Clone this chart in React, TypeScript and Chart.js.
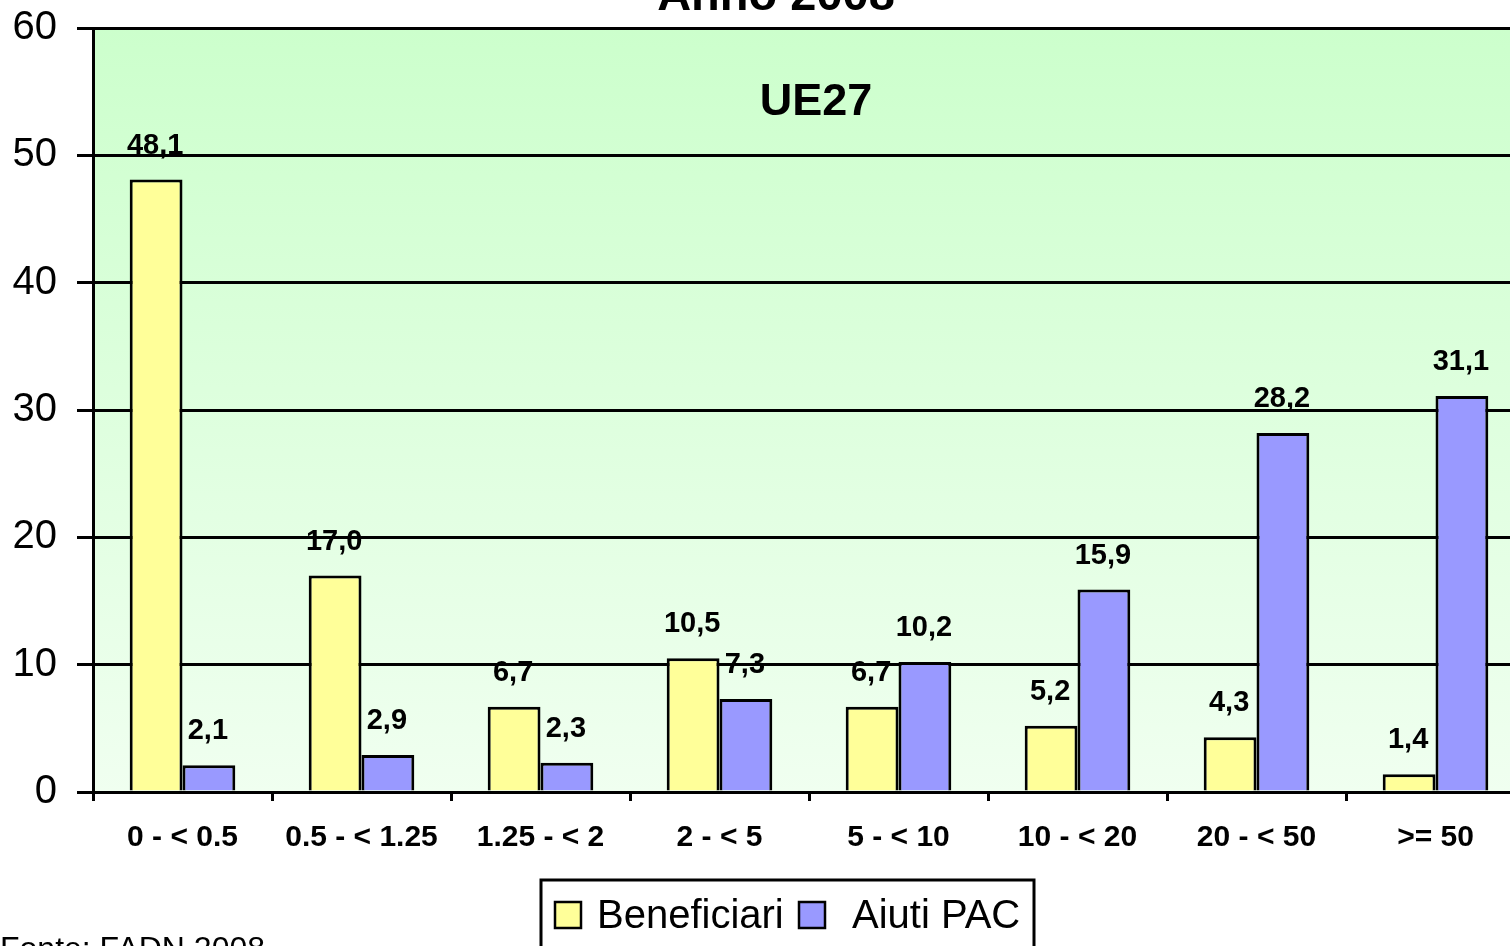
import React, { useEffect, useRef } from "react";
import { Chart, registerables } from "chart.js";

Chart.register(...registerables);

const categories = ["0 - < 0.5", "0.5 - < 1.25", "1.25 - < 2", "2 - < 5", "5 - < 10", "10 - < 20", "20 - < 50", ">= 50"];
const beneficiari = [48.1, 17.0, 6.7, 10.5, 6.7, 5.2, 4.3, 1.4];
const aiutiPac = [2.1, 2.9, 2.3, 7.3, 10.2, 15.9, 28.2, 31.1];
const yTicks = [0, 10, 20, 30, 40, 50, 60];
const seriesNames = ["Beneficiari", "Aiuti PAC"];
const seriesColors = ["#ffff99", "#9999ff"];
const chartTitle = "Anno 2008";
const areaLabel = "UE27";
const sourceNote = "Fonte: FADN 2008";

const FONT = "Arial, 'Liberation Sans', Helvetica, sans-serif";

const fmt = (v: number) => v.toFixed(1).replace(".", ",");

const decorPlugin = {
  id: "decor",
  beforeDraw(chart: any) {
    const { ctx, chartArea } = chart;
    const { left, top, right, bottom } = chartArea;
    const g = ctx.createLinearGradient(0, top, 0, bottom);
    g.addColorStop(0, "#ccffcc");
    g.addColorStop(1, "#f0fff0");
    ctx.save();
    ctx.fillStyle = g;
    ctx.fillRect(left, top, right - left, bottom - top);
    ctx.restore();
  },
  afterDatasetsDraw(chart: any) {
    const { ctx } = chart;
    ctx.save();
    ctx.font = `bold 29px ${FONT}`;
    ctx.fillStyle = "#000";
    ctx.textAlign = "center";
    ctx.textBaseline = "alphabetic";
    chart.data.datasets.forEach((ds: any, di: number) => {
      const meta = chart.getDatasetMeta(di);
      meta.data.forEach((bar: any, i: number) => {
        ctx.fillText(fmt(ds.data[i]), bar.x - 1, bar.y - 26);
      });
    });
    ctx.restore();
  },
  afterDraw(chart: any) {
    const { ctx, chartArea } = chart;
    ctx.save();
    ctx.fillStyle = "#000";
    // title (mostly cut off at top)
    ctx.font = `bold 47px ${FONT}`;
    ctx.textAlign = "center";
    ctx.textBaseline = "alphabetic";
    ctx.fillText(chartTitle, 776, 10);
    // area label
    ctx.font = `bold 45px ${FONT}`;
    ctx.fillText(areaLabel, (chartArea.left + chartArea.right) / 2 + 7, chartArea.top + 87);
    // source note
    ctx.font = `32px ${FONT}`;
    ctx.textAlign = "left";
    ctx.fillText(sourceNote, 0, 959);
    // legend
    const boxL = 541, boxT = 880, boxR = 1034;
    ctx.lineWidth = 3;
    ctx.strokeStyle = "#000";
    ctx.strokeRect(boxL, boxT, boxR - boxL, 120);
    const swatchX = [555, 799];
    const textX = [597, 852];
    ctx.font = `40px ${FONT}`;
    ctx.lineWidth = 2.5;
    chart.data.datasets.forEach((ds: any, i: number) => {
      ctx.fillStyle = ds.backgroundColor;
      ctx.fillRect(swatchX[i], 902, 26, 26);
      ctx.strokeRect(swatchX[i], 902, 26, 26);
      ctx.fillStyle = "#000";
      ctx.fillText(ds.label, textX[i], 928);
    });
    ctx.restore();
  },
};

export default function App() {
  const ref = useRef<HTMLCanvasElement | null>(null);

  useEffect(() => {
    if (!ref.current) return;
    Chart.defaults.color = "#000";
    const chart = new Chart(ref.current, {
      type: "bar",
      data: {
        labels: categories,
        datasets: [
          {
            label: seriesNames[0],
            data: beneficiari,
            backgroundColor: seriesColors[0],
            borderColor: "#000",
            borderWidth: 3,
          },
          {
            label: seriesNames[1],
            data: aiutiPac,
            backgroundColor: seriesColors[1],
            borderColor: "#000",
            borderWidth: 3,
          },
        ],
      },
      options: {
        responsive: false,
        animation: false,
        devicePixelRatio: 1,
        layout: { padding: { left: 12.5, top: 28, right: 0, bottom: 0 } },
        datasets: {
          bar: { barPercentage: 1, categoryPercentage: 0.59 },
        },
        plugins: {
          legend: { display: false },
          title: { display: false },
          tooltip: { enabled: false },
        },
        scales: {
          x: {
            offset: true,
            grid: {
              drawOnChartArea: false,
              drawTicks: true,
              tickLength: 9,
              color: "#000",
              lineWidth: 3,
              offset: true,
            },
            border: { display: true, color: "#000", width: 3 },
            ticks: {
              font: { family: FONT, size: 30, weight: "bold" },
              color: "#000",
              padding: 19,
              maxRotation: 0,
              autoSkip: false,
            },
            afterFit: (scale: any) => {
              scale.height = 154;
              scale.paddingLeft = 0;
              scale.paddingRight = 0;
            },
          },
          y: {
            min: yTicks[0],
            max: yTicks[yTicks.length - 1],
            ticks: {
              stepSize: yTicks[1] - yTicks[0],
              font: { family: FONT, size: 40 },
              color: "#000",
              padding: 20,
            },
            grid: {
              color: "#000",
              lineWidth: 3,
              tickLength: 16,
              drawTicks: true,
            },
            border: { display: true, color: "#000", width: 3 },
            afterFit: (scale: any) => {
              scale.width = 80.5;
              scale.paddingTop = 0;
              scale.paddingBottom = 0;
            },
          },
        },
      },
      plugins: [decorPlugin],
    });
    return () => chart.destroy();
  }, []);

  return (
    <div
      style={{
        position: "fixed",
        left: 0,
        top: 0,
        width: 1510,
        height: 946,
        overflow: "hidden",
        background: "#fff",
      }}
    >
      <canvas ref={ref} width={1525} height={946} style={{ display: "block", width: 1525, height: 946 }} />
    </div>
  );
}
